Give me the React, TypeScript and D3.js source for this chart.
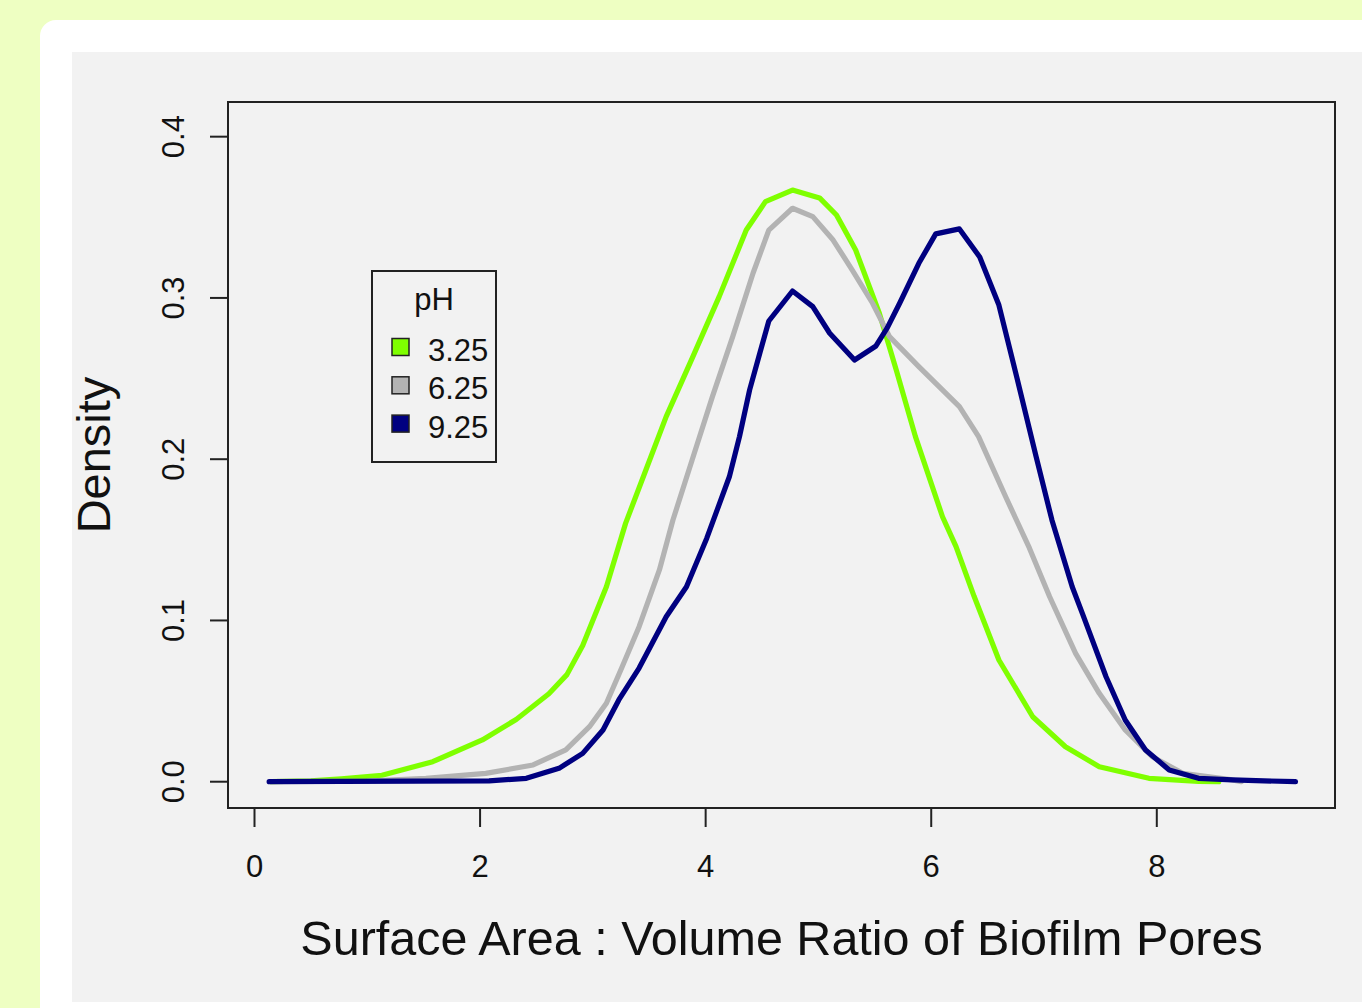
import React, { useEffect } from 'react';
import { scaleLinear, line, curveLinear } from 'd3';

// density curves (x = SA:V ratio, y = density)
const ph325X = [0.15, 0.5, 0.77, 1.13, 1.58, 2.02, 2.32, 2.61, 2.77, 2.91, 3.12, 3.29, 3.47, 3.65, 3.88, 4.12, 4.36, 4.53, 4.77, 5.01, 5.16, 5.33, 5.54, 5.69, 5.86, 6.1, 6.22, 6.38, 6.6, 6.9, 7.19, 7.49, 7.93, 8.37, 8.55];
const ph325Y = [0, 0.0005, 0.0018, 0.004, 0.0124, 0.0259, 0.0386, 0.0545, 0.0664, 0.0845, 0.1209, 0.1602, 0.1933, 0.2264, 0.2625, 0.3008, 0.3421, 0.3597, 0.3669, 0.362, 0.3514, 0.3297, 0.2905, 0.2553, 0.214, 0.1643, 0.1458, 0.115, 0.0755, 0.0403, 0.0217, 0.0093, 0.0021, 0.0002, 0];

const ph625X = [0.15, 1.0, 1.52, 2.05, 2.47, 2.76, 2.97, 3.12, 3.26, 3.41, 3.59, 3.71, 3.88, 4.06, 4.24, 4.42, 4.56, 4.77, 4.95, 5.13, 5.3, 5.48, 5.63, 5.89, 6.25, 6.42, 6.66, 6.87, 7.05, 7.28, 7.49, 7.72, 7.96, 8.23, 8.67, 8.75];
const ph625Y = [0, 0.0004, 0.0021, 0.0052, 0.0104, 0.0197, 0.0341, 0.0486, 0.0713, 0.0961, 0.1313, 0.1623, 0.1995, 0.2388, 0.276, 0.3153, 0.3421, 0.3556, 0.3504, 0.3359, 0.3173, 0.2967, 0.276, 0.2574, 0.2326, 0.214, 0.1767, 0.145, 0.1147, 0.0796, 0.0548, 0.0321, 0.0155, 0.0052, 0.0011, 0];

const ph925X = [0.13, 2.08, 2.41, 2.7, 2.91, 3.09, 3.23, 3.41, 3.65, 3.83, 4.01, 4.21, 4.3, 4.39, 4.48, 4.56, 4.77, 4.95, 5.1, 5.32, 5.51, 5.61, 5.72, 5.89, 6.04, 6.25, 6.43, 6.6, 6.76, 6.93, 7.07, 7.25, 7.34, 7.55, 7.72, 7.9, 8.11, 8.37, 8.67, 9.23];
const ph925Y = [0, 0.0005, 0.0021, 0.0083, 0.0176, 0.0321, 0.0507, 0.0705, 0.1023, 0.1209, 0.151, 0.1891, 0.214, 0.243, 0.2657, 0.2857, 0.3043, 0.2946, 0.2781, 0.2615, 0.2702, 0.2814, 0.2967, 0.3215, 0.3397, 0.3428, 0.3254, 0.2956, 0.2504, 0.2016, 0.1623, 0.1209, 0.1044, 0.0651, 0.0383, 0.0197, 0.0073, 0.0021, 0.0011, 0];

const seriesNames = ['3.25', '6.25', '9.25'];
const seriesColors = ['#7FFF00', '#B3B3B3', '#000080'];
const xTicks = [0, 2, 4, 6, 8];
const yTicks = [0, 0.1, 0.2, 0.3, 0.4];

const W = 1362;
const H = 1008;
const box = { left: 228, right: 1335, top: 102, bottom: 808 };
const font = "'Liberation Sans', Arial, sans-serif";

export default function App() {
  useEffect(() => {
    document.body.style.margin = '0';
  }, []);

  const x = scaleLinear().domain([-0.235, 9.58]).range([box.left, box.right]);
  const y = scaleLinear().domain([-0.0163, 0.4215]).range([box.bottom, box.top]);

  const series = [
    ph325X.map((v, i) => [v, ph325Y[i]]),
    ph625X.map((v, i) => [v, ph625Y[i]]),
    ph925X.map((v, i) => [v, ph925Y[i]]),
  ];
  const path = line<number[]>()
    .x((d) => x(d[0]))
    .y((d) => y(d[1]))
    .curve(curveLinear);

  return (
    <svg
      width={W}
      height={H}
      style={{ position: 'absolute', left: 0, top: 0, display: 'block' }}
      fontFamily={font}
    >
      <rect width={W} height={H} fill="#EEFFC2" />
      <rect x={40} y={20} width={W} height={H + 40} rx={16} fill="#fff" />
      <rect x={72} y={52} width={W} height={950} fill="#F2F2F2" />

      {series.map((s, i) => (
        <path
          key={seriesNames[i]}
          d={path(s) || ''}
          fill="none"
          stroke={seriesColors[i]}
          strokeWidth={5.2}
          strokeLinejoin="round"
          strokeLinecap="round"
        />
      ))}

      <rect
        x={box.left}
        y={box.top}
        width={box.right - box.left}
        height={box.bottom - box.top}
        fill="none"
        stroke="#222"
        strokeWidth={2}
      />

      {/* x axis */}
      <line x1={x(xTicks[0])} x2={x(xTicks[xTicks.length - 1])} y1={box.bottom} y2={box.bottom} stroke="#222" strokeWidth={2} />
      {xTicks.map((t) => (
        <g key={t} transform={`translate(${x(t)},${box.bottom})`}>
          <line y2={19} stroke="#222" strokeWidth={2} />
          <text y={69} textAnchor="middle" fontSize={31} fill="#111">{t}</text>
        </g>
      ))}

      {/* y axis */}
      {yTicks.map((t) => (
        <g key={t} transform={`translate(${box.left},${y(t)})`}>
          <line x2={-18} stroke="#222" strokeWidth={2} />
          <text transform="translate(-44,0) rotate(-90)" textAnchor="middle" fontSize={31} fill="#111">
            {t.toFixed(1)}
          </text>
        </g>
      ))}

      <text x={781.5} y={955} textAnchor="middle" fontSize={48.5} fill="#111">
        Surface Area : Volume Ratio of Biofilm Pores
      </text>
      <text transform="translate(110,455) rotate(-90)" textAnchor="middle" fontSize={47} fill="#111">
        Density
      </text>

      {/* legend */}
      <g transform="translate(372,271)">
        <rect width={124} height={191} fill="none" stroke="#222" strokeWidth={2} />
        <text x={62} y={39} textAnchor="middle" fontSize={31} fill="#111">pH</text>
        {seriesNames.map((n, i) => (
          <g key={n} transform={`translate(0,${76 + i * 38.3})`}>
            <rect x={20} y={-8.5} width={17} height={17} fill={seriesColors[i]} stroke="#222" strokeWidth={1.5} />
            <text x={56} y={14} fontSize={31} fill="#111">{n}</text>
          </g>
        ))}
      </g>
    </svg>
  );
}
